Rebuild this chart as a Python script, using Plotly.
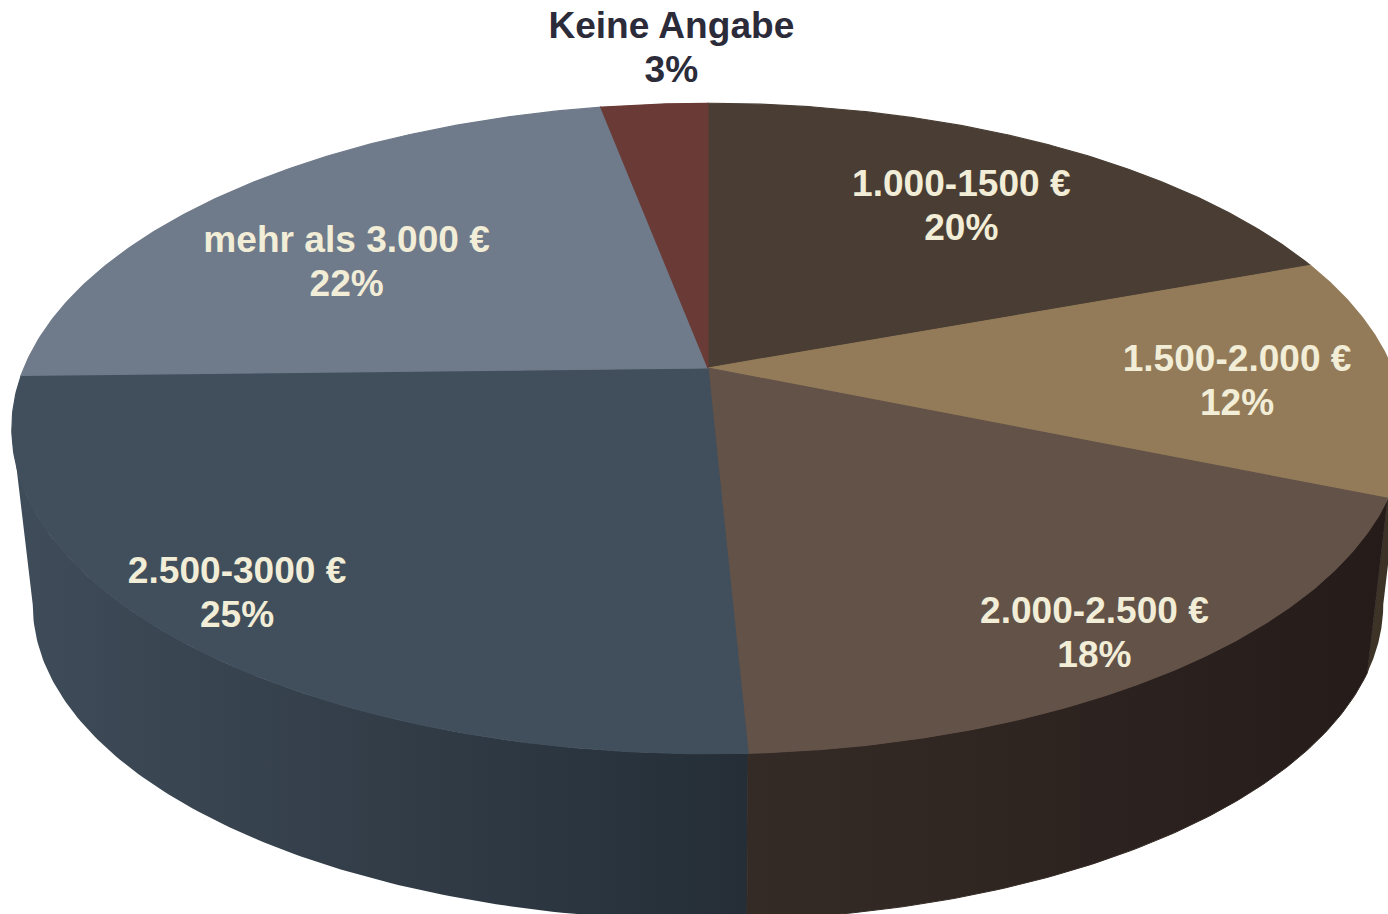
import numpy as np
import plotly.graph_objects as go

# Data
categories = ["1.000-1500 €", "1.500-2.000 €", "2.000-2.500 €", "2.500-3000 €", "mehr als 3.000 €", "Keine Angabe"]
percent_labels = ["20%", "12%", "18%", "25%", "22%", "3%"]
drawn_shares = [19.35, 11.95, 17.94, 25.39, 22.4, 2.97]

# Styles
top_colors = ["#4A3E34", "#937B59", "#635248", "#414F5C", "#6F7A8A", "#6A3B36"]
wall_left = ["#4A3E34", "#3E3528", "#352B26", "#3F4C59", "#6F7A8A", "#6A3B36"]
wall_right = ["#4A3E34", "#3A3124", "#251C1A", "#252E37", "#6F7A8A", "#6A3B36"]
text_colors = ["#F2EDD7"] * 5 + ["#2B2B3A"]
label_theta = [35.5, 92.8, 146.1, 224.0, 302.8, 357.0]
label_radius = [0.706, 0.769, 0.876, 0.875, 0.671, 1.264]

# Perspective of the disc in pixel space
CX, CY, A, D, Q = 708.0, 368.0, 684.0, 314.0, 0.186
NADIR_Y, BASE_SCALE = 6300.0, 0.97
# Angles where the rim silhouette turns from the top face to the wall
RIM_START, RIM_END = 100.7, 259.3


def top_xy(theta_deg, r=1.0):
    t = np.radians(theta_deg)
    u, v = r * np.sin(t), r * np.cos(t)
    w = 1 + Q * v
    return CX + A * u / w, CY - D * v / w


def base_xy(theta_deg):
    x, y = top_xy(theta_deg)
    return CX + BASE_SCALE * (x - CX), NADIR_Y + BASE_SCALE * (y - NADIR_Y)


edges = np.concatenate([[0.0], np.cumsum(drawn_shares)]) / sum(drawn_shares) * 360.0
fig = go.Figure()

# Side walls: front rim only (wedges 2, 3 and 4 show a wall)
for i in (1, 3, 2):
    a0, a1 = max(edges[i], RIM_START), min(edges[i + 1], RIM_END)
    th = np.linspace(a0, a1, 120)
    xt, yt = top_xy(th)
    xb, yb = base_xy(th)
    xs = np.concatenate([xt, xb[::-1], xt[:1]])
    ys = np.concatenate([yt, yb[::-1], yt[:1]])
    seam = dict(width=1, color=wall_left[i]) if i == 2 else dict(width=0)
    fig.add_trace(go.Scatter(
        x=xs, y=ys, mode="lines", line=seam, fill="toself",
        fillgradient=dict(type="horizontal",
                          colorscale=[[0, wall_left[i]], [1, wall_right[i]]],
                          start=float(xs.min()), stop=float(xs.max())),
        hoverinfo="skip", showlegend=False))

# Top faces
for i, name in enumerate(categories):
    th = np.linspace(edges[i], edges[i + 1], 160)
    xa, ya = top_xy(th)
    fig.add_trace(go.Scatter(
        x=np.concatenate([[CX], xa, [CX]]), y=np.concatenate([[CY], ya, [CY]]),
        mode="lines", line=dict(width=1.2, color=top_colors[i]), fill="toself",
        fillcolor=top_colors[i], name=name, hoverinfo="name", showlegend=False))

# Labels: two separate lines each
lx, ly = top_xy(np.array(label_theta), np.array(label_radius))
font = dict(family="Liberation Sans", size=37.1)
for txt, off in ((categories, -18), (percent_labels, 25.5)):
    fig.add_trace(go.Scatter(
        x=lx, y=ly + off, mode="text", text=[f"<b>{t}</b>" for t in txt],
        textposition="middle center", textfont=dict(color=text_colors, **font),
        hoverinfo="skip", showlegend=False, cliponaxis=False))

fig.update_layout(
    width=1388, height=914, margin=dict(l=0, r=0, t=0, b=0, pad=0),
    paper_bgcolor="white", plot_bgcolor="white",
    xaxis=dict(range=[0, 1388], visible=False, fixedrange=True),
    yaxis=dict(range=[914, 0], visible=False, fixedrange=True),
)
fig.write_html(
    "out.html",
    config={"displayModeBar": False},
    post_script="document.body.style.margin='0';document.body.style.overflow='hidden';",
)
